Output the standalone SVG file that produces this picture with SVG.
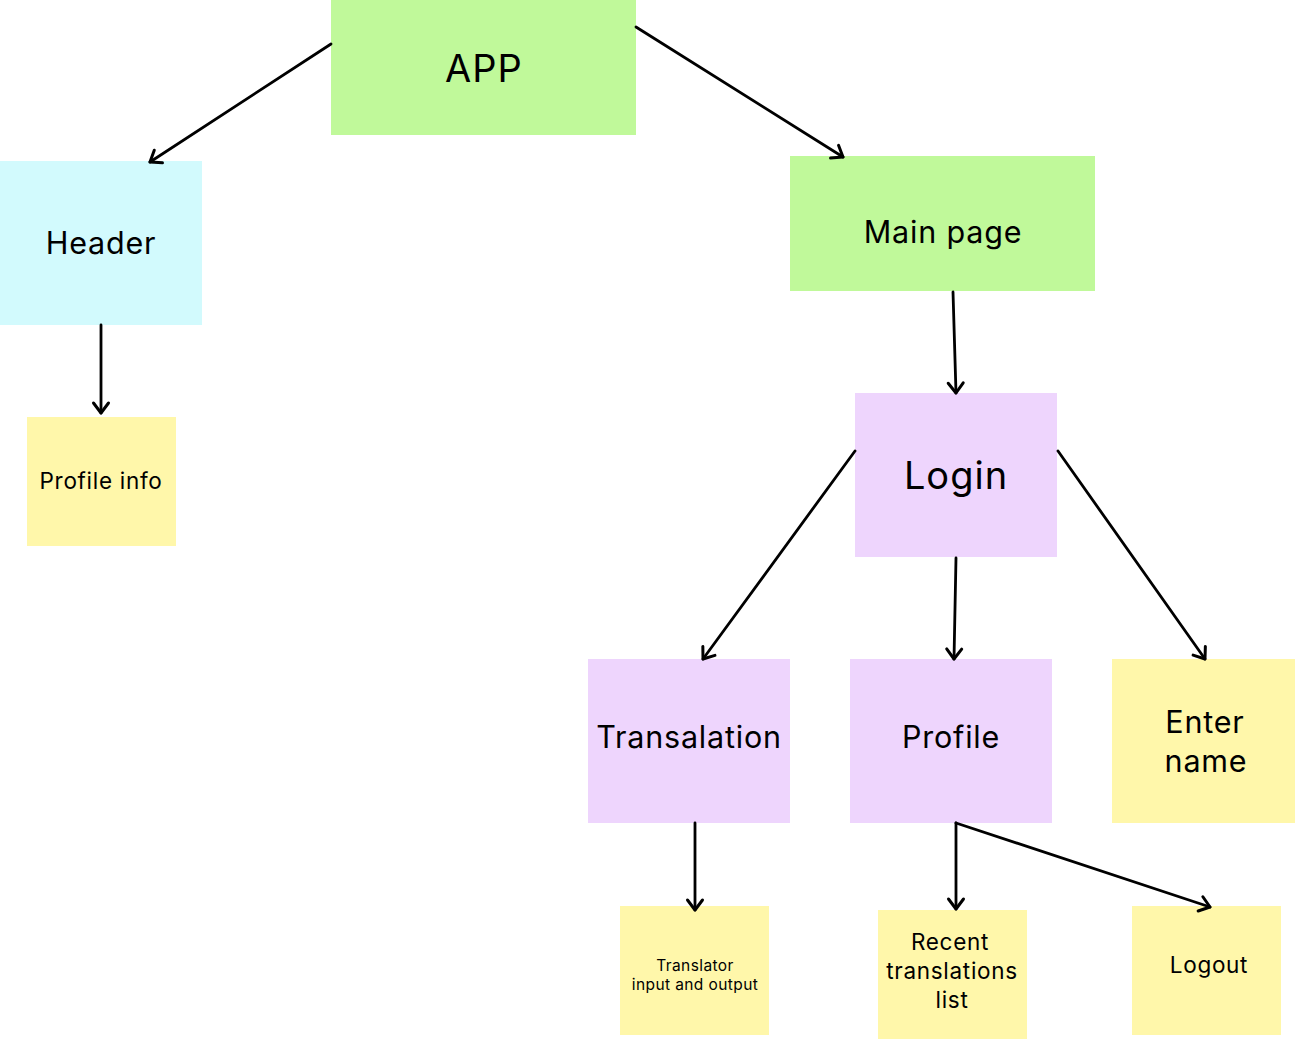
<svg xmlns="http://www.w3.org/2000/svg" width="1295" height="1039" viewBox="0 0 1295 1039">
<defs>
<marker id="ah" markerUnits="userSpaceOnUse" viewBox="-12 -10 14 20" refX="0" refY="0" markerWidth="14" markerHeight="20" orient="auto" overflow="visible">
<path d="M -10 -7.5 L 0 0 L -10 7.5" fill="none" stroke="#000" stroke-width="3" stroke-linecap="round" stroke-linejoin="round"/>
</marker>
<style>
.t{font-family:Inter,"Liberation Sans",sans-serif;fill:#000;text-anchor:middle}
.xl{font-size:38px;letter-spacing:1px}
.l{font-size:30.5px;letter-spacing:0.8px}
.m{font-size:22.5px;letter-spacing:0.7px}
.s{font-size:15.5px;letter-spacing:0.4px}
.g{fill:#C0F99A}.b{fill:#D2FAFD}.p{fill:#EED5FD}.y{fill:#FFF7AA}
.c{fill:none;stroke:#000;stroke-width:2.8;stroke-linecap:round;marker-end:url(#ah)}
</style>
</defs>
<rect width="1295" height="1039" fill="#fff"/>
<g id="app"><rect class="g" x="331" y="0" width="305" height="135"/><text class="t xl" x="484" y="82">APP</text></g>
<g id="header"><rect class="b" x="0" y="161" width="202" height="164"/><text class="t l" x="101" y="254">Header</text></g>
<g id="mainpage"><rect class="g" x="790" y="156" width="305" height="135"/><text class="t l" x="943" y="243">Main page</text></g>
<g id="profileinfo"><rect class="y" x="27" y="417" width="149" height="129"/><text class="t m" x="101" y="489">Profile info</text></g>
<g id="login"><rect class="p" x="855" y="393" width="202" height="164"/><text class="t xl" x="956" y="489">Login</text></g>
<g id="transalation"><rect class="p" x="588" y="659" width="202" height="164"/><text class="t l" x="689" y="748">Transalation</text></g>
<g id="profile"><rect class="p" x="850" y="659" width="202" height="164"/><text class="t l" x="951" y="748">Profile</text></g>
<g id="entername"><rect class="y" x="1112" y="659" width="183" height="164"/><text class="t l" x="1205" y="733">Enter</text><text class="t l" x="1206" y="772">name</text></g>
<g id="translator"><rect class="y" x="620" y="906" width="149" height="129"/><text class="t s" x="695" y="971">Translator</text><text class="t s" x="695" y="990">input and output</text></g>
<g id="recent"><rect class="y" x="878" y="910" width="149" height="129"/><text class="t m" x="950" y="950">Recent</text><text class="t m" x="952" y="979">translations</text><text class="t m" x="952" y="1008">list</text></g>
<g id="logout"><rect class="y" x="1132" y="906" width="149" height="129"/><text class="t m" x="1209" y="973">Logout</text></g>
<g id="connectors">
<line class="c" x1="331" y1="44" x2="150" y2="162"/>
<line class="c" x1="636" y1="27" x2="843" y2="157"/>
<line class="c" x1="101" y1="325" x2="101" y2="413"/>
<line class="c" x1="953" y1="292" x2="956" y2="393"/>
<line class="c" x1="855" y1="451" x2="703" y2="659"/>
<line class="c" x1="956" y1="558" x2="954" y2="659"/>
<line class="c" x1="1058" y1="451" x2="1205" y2="659"/>
<line class="c" x1="695" y1="823" x2="695" y2="910"/>
<line class="c" x1="956" y1="823" x2="956" y2="909"/>
<line class="c" x1="956" y1="823" x2="1210" y2="907"/>
</g>
</svg>
